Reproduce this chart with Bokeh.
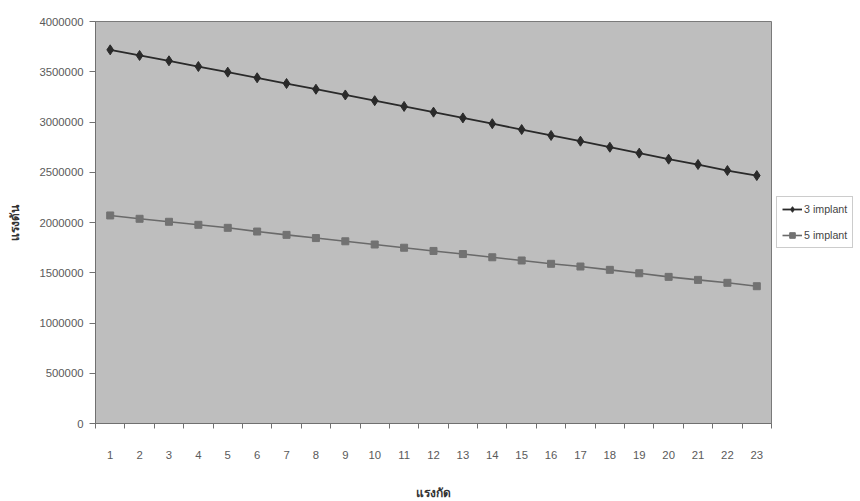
from bokeh.plotting import figure
from bokeh.models import Range1d, FixedTicker, Legend, LegendItem, ColumnDataSource
from bokeh.embed import file_html
from bokeh.resources import INLINE

categories = list(range(1, 24))
tick_labels = [str(c) for c in categories]
implant3 = [3718000, 3662000, 3609000, 3552000, 3496000, 3440000, 3383000, 3326000,
            3269000, 3212000, 3155000, 3098000, 3041000, 2983000, 2925000, 2866000,
            2809000, 2749000, 2690000, 2630000, 2577000, 2517000, 2467000]
implant5 = [2070000, 2037000, 2007000, 1977000, 1947000, 1910000, 1877000, 1845000,
            1813000, 1781000, 1749000, 1717000, 1686000, 1654000, 1622000, 1589000,
            1562000, 1529000, 1495000, 1459000, 1429000, 1400000, 1366000]
series_names = ["3 implant", "5 implant"]
y_ticks = [0, 500000, 1000000, 1500000, 2000000, 2500000, 3000000, 3500000, 4000000]
x_title = "แรงกัด"
y_title = "แรงดัน"

FONT = "Liberation Sans"

p = figure(frame_width=676, frame_height=402, output_backend="svg", toolbar_location=None,
           x_range=Range1d(0.5, len(categories) + 0.5), y_range=Range1d(0, 4000000),
           min_border_left=95, min_border_right=0, min_border_top=21, min_border_bottom=78)

p.background_fill_color = "#bebebe"
p.border_fill_color = "white"
p.outline_line_color = "#7a7a7a"
p.outline_line_width = 1
p.grid.visible = False

src = ColumnDataSource(dict(x=categories, a=implant3, b=implant5))
l1 = p.line("x", "a", source=src, line_color="#2a2a2a", line_width=1.8)
m1 = p.scatter("x", "a", source=src, marker="diamond", size=10, fill_color="#2a2a2a",
               line_color="#2a2a2a")
l2 = p.line("x", "b", source=src, line_color="#6a6a6a", line_width=1.6)
m2 = p.scatter("x", "b", source=src, marker="square", size=7, fill_color="#727272",
               line_color="#727272")

# x axis: labels at category centers, tick marks between categories
p.xaxis.ticker = FixedTicker(ticks=categories,
                             minor_ticks=[c - 0.5 for c in categories] + [len(categories) + 0.5])
p.xaxis.major_label_overrides = {c: t for c, t in zip(categories, tick_labels)}
p.xaxis.major_tick_line_color = None
p.xaxis.minor_tick_in = 0
p.xaxis.minor_tick_out = 5
p.xaxis.minor_tick_line_color = "#707070"
p.xaxis.axis_line_color = "#707070"
p.xaxis.major_label_standoff = 21
p.xaxis.major_label_text_font = FONT
p.xaxis.major_label_text_font_size = "8.5pt"
p.xaxis.major_label_text_color = "#5a5a5a"
p.xaxis.axis_label = x_title
p.xaxis.axis_label_text_font_style = "bold"
p.xaxis.axis_label_text_font_size = "9pt"
p.xaxis.axis_label_text_color = "#333333"
p.xaxis.axis_label_standoff = 24

p.yaxis.ticker = FixedTicker(ticks=y_ticks)
p.yaxis.major_label_overrides = {v: str(v) for v in y_ticks}
p.yaxis.minor_tick_line_color = None
p.yaxis.major_tick_in = 0
p.yaxis.major_tick_out = 6
p.yaxis.major_tick_line_color = "#707070"
p.yaxis.axis_line_color = "#707070"
p.yaxis.major_label_standoff = 6
p.yaxis.major_label_text_font = FONT
p.yaxis.major_label_text_font_size = "8.5pt"
p.yaxis.major_label_text_color = "#5a5a5a"
p.yaxis.axis_label = y_title
p.yaxis.axis_label_text_font_style = "bold"
p.yaxis.axis_label_text_font_size = "9pt"
p.yaxis.axis_label_text_color = "#333333"
p.yaxis.axis_label_standoff = 14

legend = Legend(items=[LegendItem(label=series_names[0], renderers=[l1, m1]),
                       LegendItem(label=series_names[1], renderers=[l2, m2])],
                location="center_left", orientation="vertical")
legend.label_text_font = FONT
legend.label_text_font_size = "8pt"
legend.label_text_color = "#444444"
legend.border_line_color = "#999999"
legend.background_fill_color = "white"
legend.background_fill_alpha = 1
legend.glyph_width = 20
legend.glyph_height = 14
legend.spacing = 12
legend.padding = 5
legend.margin = 5
legend.label_standoff = 2
legend.label_height = 14
p.add_layout(legend, "right")

open("out.html", "w").write(file_html(p, INLINE))
